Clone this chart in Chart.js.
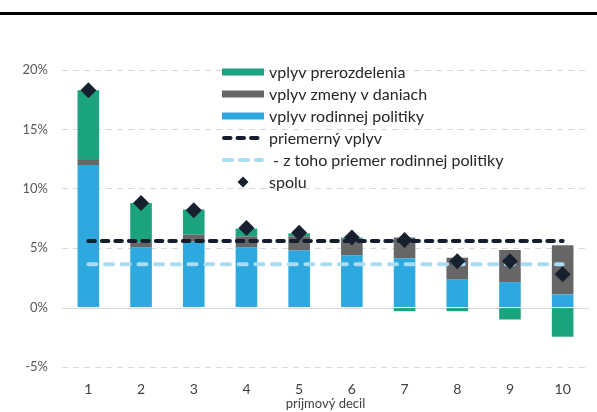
<!DOCTYPE html>
<html lang="sk">
<head>
<meta charset="utf-8">
<script src="https://cdn.jsdelivr.net/npm/chart.js@4.4.1/dist/chart.umd.min.js"></script>
<style>
  html, body { margin: 0; padding: 0; background: #ffffff; }
  #wrap { position: relative; width: 597px; height: 412px; }
</style>
</head>
<body>
<div id="wrap"><canvas id="graf"></canvas></div>
<script>
// Príjmové decily
const decily = ['1', '2', '3', '4', '5', '6', '7', '8', '9', '10'];

// Zložky vplyvu (v % príjmu)
const rodinnaPolitika = [12.0, 5.05, 5.55, 5.05, 4.8, 4.4, 4.15, 2.35, 2.15, 1.1];
const zmenaDani      = [0.5, 0.45, 0.6, 0.95, 1.2, 1.4, 1.75, 1.85, 2.7, 4.15];
const prerozdelenie  = [5.8, 3.3, 2.1, 0.65, 0.25, 0.1, -0.3, -0.3, -1.0, -2.45];
const spolu          = [18.3, 8.8, 8.2, 6.7, 6.3, 5.9, 5.7, 3.9, 3.9, 2.8];

// Priemery
const priemernyVplyv   = [5.6, 5.6, 5.6, 5.6, 5.6, 5.6, 5.6, 5.6, 5.6, 5.6];
const priemerRodinnej  = [3.65, 3.65, 3.65, 3.65, 3.65, 3.65, 3.65, 3.65, 3.65, 3.65];

// Os Y
const osY = { min: -5, max: 20, krok: 5 };

const FARBA_ZELENA = '#1ba37e';
const FARBA_SIVA = '#666666';
const FARBA_MODRA = '#2ea9df';
const FARBA_CIERNA = '#141e2e';
const FARBA_SVETLA = '#a9dcf2';
const FARBA_BOD = '#16202f';
const PISMO = 'Lato, "Open Sans", sans-serif';

const legenda = [
  { typ: 'box', farba: FARBA_ZELENA, text: 'vplyv prerozdelenia' },
  { typ: 'box', farba: FARBA_SIVA, text: 'vplyv zmeny v daniach' },
  { typ: 'box', farba: FARBA_MODRA, text: 'vplyv rodinnej politiky' },
  { typ: 'ciara', farba: FARBA_CIERNA, dash: [6.5, 7], text: 'priemerný vplyv' },
  { typ: 'ciara', farba: FARBA_SVETLA, dash: [8, 8], text: ' - z toho priemer rodinnej politiky' },
  { typ: 'bod', farba: FARBA_BOD, text: 'spolu' }
];

// Horná čiara, nulová čiara a legenda
const doplnky = {
  id: 'doplnky',
  beforeDraw(chart) {
    const ctx = chart.ctx;
    ctx.save();
    ctx.fillStyle = '#000000';
    ctx.fillRect(0, 12, chart.width, 3);
    ctx.restore();
  },
  beforeDatasetsDraw(chart) {
    const ctx = chart.ctx;
    const y0 = Math.round(chart.scales.y.getPixelForValue(0)) + 0.5;
    ctx.save();
    ctx.strokeStyle = '#d9d9d9';
    ctx.lineWidth = 1;
    ctx.beginPath();
    ctx.moveTo(chart.chartArea.left, y0);
    ctx.lineTo(chart.chartArea.right, y0);
    ctx.stroke();
    ctx.restore();
  },
  afterDraw(chart) {
    const ctx = chart.ctx;
    const x0 = 222, x1 = 264, xText = 269;
    const riadky = [72, 94, 116, 138, 160, 182];
    ctx.save();
    ctx.font = '16px ' + PISMO;
    ctx.textBaseline = 'middle';
    ctx.textAlign = 'left';
    legenda.forEach((p, i) => {
      const y = riadky[i];
      if (p.typ === 'box') {
        ctx.fillStyle = p.farba;
        ctx.fillRect(x0, y - 3.5, x1 - x0, 7);
      } else if (p.typ === 'ciara') {
        ctx.strokeStyle = p.farba;
        ctx.lineWidth = 4;
        ctx.lineCap = 'round';
        ctx.setLineDash(p.dash);
        ctx.beginPath();
        ctx.moveTo(x0 + 2, y);
        ctx.lineTo(x1 - 2, y);
        ctx.stroke();
        ctx.setLineDash([]);
      } else {
        const r = 5.5, cx = 243;
        ctx.fillStyle = p.farba;
        ctx.beginPath();
        ctx.moveTo(cx, y - r);
        ctx.lineTo(cx + r, y);
        ctx.lineTo(cx, y + r);
        ctx.lineTo(cx - r, y);
        ctx.closePath();
        ctx.fill();
      }
      ctx.fillStyle = '#262626';
      ctx.fillText(p.text, xText, y + 1);
    });
    ctx.restore();
  }
};

const ciaraPriemeru = (label, data, farba, dash, stack) => ({
  type: 'line',
  label,
  data,
  stack,
  borderColor: farba,
  borderWidth: 4,
  borderDash: dash,
  borderCapStyle: 'round',
  pointRadius: 0,
  pointHoverRadius: 0,
  fill: false,
  order: 1
});

new Chart(document.getElementById('graf'), {
  type: 'bar',
  data: {
    labels: decily,
    datasets: [
      { label: 'vplyv rodinnej politiky', data: rodinnaPolitika, backgroundColor: FARBA_MODRA, order: 3 },
      { label: 'vplyv zmeny v daniach', data: zmenaDani, backgroundColor: FARBA_SIVA, order: 3 },
      { label: 'vplyv prerozdelenia', data: prerozdelenie, backgroundColor: FARBA_ZELENA, order: 3 },
      ciaraPriemeru('priemerný vplyv', priemernyVplyv, FARBA_CIERNA, [6.5, 7], 'priemer'),
      ciaraPriemeru(' - z toho priemer rodinnej politiky', priemerRodinnej, FARBA_SVETLA, [8, 8.7], 'priemerRodinnej'),
      {
        type: 'line',
        label: 'spolu',
        data: spolu,
        stack: 'spolu',
        showLine: false,
        pointStyle: 'rectRot',
        pointRadius: 8,
        pointHoverRadius: 8,
        pointBackgroundColor: FARBA_BOD,
        pointBorderColor: FARBA_BOD,
        pointBorderWidth: 0,
        order: 0
      }
    ]
  },
  options: {
    responsive: true,
    maintainAspectRatio: false,
    animation: false,
    datasets: { bar: { barPercentage: 0.41, categoryPercentage: 1.0 } },
    layout: { padding: { top: 70, right: 3, bottom: 0, left: 0 } },
    plugins: {
      legend: { display: false },
      tooltip: { enabled: false },
      title: { display: false }
    },
    scales: {
      x: {
        stacked: true,
        grid: { display: false },
        border: { display: false },
        ticks: { color: '#404040', font: { family: PISMO, size: 14 }, padding: 6 },
        title: {
          display: true,
          text: 'príjmový decil',
          color: '#404040',
          font: { family: PISMO, size: 13 },
          padding: { top: 0, bottom: 0 }
        },
        afterFit(scale) { scale.height = 45; }
      },
      y: {
        stacked: true,
        min: osY.min,
        max: osY.max,
        border: { display: false, dash: [6, 5] },
        grid: {
          drawTicks: false,
          lineWidth: 1,
          color: (c) => (c.tick && c.tick.value === 0 ? 'rgba(0,0,0,0)' : '#d9d9d9')
        },
        ticks: {
          stepSize: osY.krok,
          color: '#595959',
          font: { family: PISMO, size: 13 },
          padding: 14,
          callback: (v) => v + '%'
        },
        afterFit(scale) { scale.width = 62; }
      }
    }
  },
  plugins: [doplnky]
});
</script>
</body>
</html>
